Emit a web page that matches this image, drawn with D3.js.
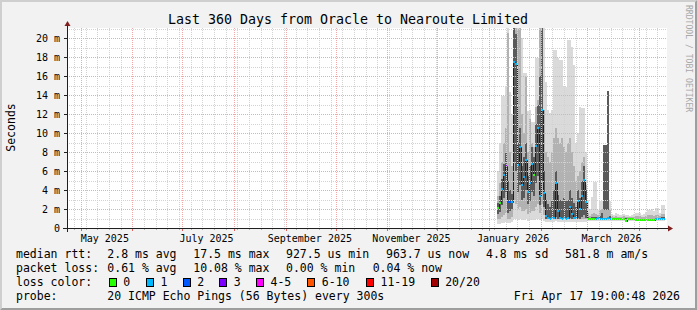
<!DOCTYPE html>
<html>
<head>
<meta charset="utf-8">
<title>Last 360 Days from Oracle to Nearoute Limited</title>
<script src="https://cdn.jsdelivr.net/npm/d3@7"></script>
<style>
    html, body { margin: 0; padding: 0; background: #f2f2f2; }
    #chart svg { display: block; font-family: "DejaVu Sans Mono", monospace; }
</style>
</head>
<body>
<div id="chart"></div>
<script>
// Graph window: 360 days up to the time the graph was made
const endTime = new Date(2026, 3, 17, 19, 0, 48);
const startTime = d3.timeDay.offset(endTime, -360);

// Smokeping samples start here, one every 28.8 hours
const firstSample = new Date(2026, 0, 5, 19, 0);
const sampleHours = 28.8;

// median rtt (ms)
const median = [
    2.1, 2.6, 4.1, 5.6, 6.5, 2.7, 2.7, 2.7, 17.5, 17.3,
    6.6, 8.5, 4.5, 5.4, 7.2, 3.8, 4.8, 6.75, 5.6, 8.6,
    10.6, 3.4, 12.45, 3.7, 1.27, 1.05, 1.0, 1.05, 1.1, 4.8,
    1.8, 1.05, 1.0, 1.05, 1.0, 1.05, 2.2, 1.5, 1.1, 1.05,
    2.9, 2.0, 3.4, 5.1, 2.7, 1.0,
    1.0, 0.98, 1.0, 1.0, 1.02, 1.0, 1.0, 1.0, 1.0, 1.02,
    1.0, 0.98, 1.0, 0.98, 1.0, 0.98, 0.98, 1.0, 0.75, 0.98,
    1.0, 0.98, 0.98, 0.85, 0.85, 0.85, 0.84, 0.85, 0.85, 0.84,
    0.85, 0.85, 0.86, 1.0, 1.0, 1.0, 1.0, 1.0
];

// pings lost out of 20, per sample
const lost = [
    0, 0, 1, 1, 3, 2, 2, 1, 1, 1,
    1, 1, 1, 1, 1, 1, 1, 1, 0, 1,
    1, 1, 1, 1, 1, 1, 1, 1, 1, 1,
    1, 1, 1, 1, 1, 1, 1, 1, 1, 1,
    1, 1, 1, 1, 1, 0,
    0, 0, 0, 1, 1, 1, 1, 1, 1, 1,
    1, 0, 0, 0, 0, 0, 0, 0, 0, 0,
    0, 0, 0, 0, 0, 0, 0, 0, 0, 0,
    0, 0, 0, 1, 1, 1, 1, 1
];

// smoke: fastest and slowest ping (ms)
const smokeMin = [
    0.4, 0.4, 0.5, 0.5, 0.6, 0.5, 0.5, 0.6, 1.0, 1.0,
    0.8, 0.9, 0.8, 0.8, 0.9, 0.7, 0.8, 0.8, 0.8, 0.9,
    1.0, 0.8, 1.0, 0.7, 0.6, 0.6, 0.6, 0.6, 0.6, 0.7,
    0.6, 0.6, 0.6, 0.6, 0.6, 0.6, 0.6, 0.6, 0.6, 0.6,
    0.6, 0.6, 0.6, 0.6, 0.6, 0.7,
    0.76, 0.75, 0.76, 0.75, 0.76, 0.75, 0.75, 0.76, 0.75, 0.75,
    0.76, 0.75, 0.76, 0.75, 0.75, 0.76, 0.75, 0.75, 0.74, 0.75,
    0.76, 0.75, 0.75, 0.74, 0.74, 0.75, 0.74, 0.74, 0.75, 0.74,
    0.74, 0.75, 0.75, 0.76, 0.75, 0.76, 0.75, 0.76
];
const smokeMax = [
    6.0, 9.0, 13.9, 13.9, 14.9, 21.5, 14.4, 12.0, 22, 22,
    22, 22, 20, 16.3, 16.3, 12.3, 12.4, 11.2, 11.2, 17.9,
    17.9, 22, 22, 22, 15.4, 12.4, 12.1, 12.4, 18.8, 18.8,
    17.9, 17.7, 17.7, 14.9, 14.9, 19.8, 19.8, 19.1, 17.2, 9.0,
    10, 12.8, 12.7, 12.7, 8.0, 3.0,
    2.0, 3.3, 4.9, 4.9, 1.9, 2.8, 2.8, 8.8, 8.8, 14.5,
    2.8, 1.5, 1.4, 1.6, 1.5, 1.4, 1.4, 1.5, 1.4, 1.4,
    1.3, 1.4, 1.5, 1.6, 1.6, 1.6, 1.4, 1.5, 1.7, 1.9,
    1.9, 2.0, 1.8, 2.1, 2.1, 1.6, 2.4, 2.4
];

// smoke: middle percentiles (ms)
const midLo = [
    0.9, 1.0, 1.2, 1.4, 1.6, 1.0, 1.0, 1.2, 3.0, 2.5,
    2.0, 2.2, 1.8, 1.8, 2.0, 1.5, 1.6, 1.8, 1.8, 2.2,
    2.5, 1.6, 2.5, 1.4, 0.9, 0.9, 0.9, 0.9, 0.9, 1.0,
    0.9, 0.9, 0.9, 0.9, 0.9, 0.9, 0.9, 0.9, 0.9, 0.9,
    0.9, 0.9, 0.9, 0.9, 0.9, 0.85,
    0.85, 0.85, 0.85, 0.85, 0.85, 0.85, 0.85, 0.85, 0.85, 0.85,
    0.85, 0.85, 0.85, 0.85, 0.85, 0.85, 0.85, 0.85, 0.85, 0.85,
    0.85, 0.85, 0.85, 0.82, 0.82, 0.82, 0.82, 0.82, 0.82, 0.82,
    0.82, 0.82, 0.82, 0.85, 0.85, 0.85, 0.85, 0.85
];
const midHi = [
    3.4, 4.8, 7.0, 9.0, 10.5, 20.6, 8.0, 6.5, 22, 22,
    21, 22, 12, 10, 15.9, 8.0, 11.5, 9.0, 8.5, 12.8,
    13.5, 22, 22, 12.4, 8.0, 7.5, 7.0, 8.0, 9.5, 10.5,
    9.5, 9.0, 9.5, 8.5, 8.0, 9.0, 9.5, 8.0, 6.5, 5.0,
    5.5, 6.0, 7.0, 7.5, 4.5, 1.6,
    1.3, 1.5, 1.6, 1.5, 1.4, 1.9, 2.0, 8.8, 8.8, 14.5,
    1.9, 1.3, 1.2, 1.25, 1.2, 1.2, 1.2, 1.25, 1.2, 1.2,
    1.15, 1.2, 1.2, 1.25, 1.25, 1.25, 1.2, 1.2, 1.3, 1.35,
    1.35, 1.4, 1.3, 1.4, 1.4, 1.3, 1.5, 1.5
];

// smoke: pings closest to the median (ms)
const innerLo = [
    1.5, 1.7, 2.4, 3.2, 3.8, 1.6, 1.8, 2.0, 7.0, 6.0,
    3.8, 4.5, 3.0, 3.2, 4.0, 2.5, 2.8, 3.8, 3.4, 4.8,
    5.5, 2.4, 5.0, 2.2, 1.0, 1.0, 1.0, 1.0, 1.0, 1.2,
    1.0, 1.0, 1.0, 1.0, 1.0, 1.0, 1.1, 1.0, 1.0, 1.0,
    1.1, 1.0, 1.2, 1.4, 1.1, 0.9,
    0.9, 0.9, 0.9, 0.9, 0.9, 0.9, 0.9, 1.9, 1.9, 1.9,
    0.9, 0.9, 0.9, 0.9, 0.9, 0.9, 0.9, 0.9, 0.9, 0.9,
    0.9, 0.9, 0.9, 0.8, 0.8, 0.8, 0.8, 0.8, 0.8, 0.8,
    0.8, 0.8, 0.8, 0.9, 0.9, 0.9, 0.9, 0.9
];
const innerHi = [
    2.6, 3.4, 5.2, 6.8, 8.0, 5.0, 4.0, 3.6, 22, 20.5,
    9.0, 10.5, 6.5, 7.5, 9.0, 5.5, 6.5, 8.5, 7.5, 11.0,
    13.0, 16, 22, 6.0, 3.0, 2.5, 2.2, 3.0, 4.0, 6.0,
    3.5, 3.0, 2.8, 3.2, 2.8, 3.0, 4.0, 3.2, 2.6, 2.2,
    4.0, 3.2, 5.0, 6.5, 4.0, 1.2,
    1.1, 1.15, 1.2, 1.2, 1.15, 1.3, 1.6, 8.8, 8.8, 14.5,
    1.3, 1.1, 1.05, 1.1, 1.05, 1.05, 1.05, 1.1, 1.05, 1.05,
    1.05, 1.05, 1.05, 1.0, 1.0, 1.0, 1.0, 1.0, 1.0, 1.0,
    1.0, 1.0, 1.0, 1.1, 1.1, 1.1, 1.15, 1.15
];

// axis labels
const yTicks = [0, 2, 4, 6, 8, 10, 12, 14, 16, 18, 20];
const yTickLabels = ["0", "2 m", "4 m", "6 m", "8 m", "10 m", "12 m", "14 m", "16 m", "18 m", "20 m"];
const xTickLabels = ["May 2025", "July 2025", "September 2025", "November 2025", "January 2026", "March 2026"];

// loss colour legend
const lossLabels = ["0", "1", "2", "3", "4-5", "6-10", "11-19", "20/20"];
const lossColors = ["#26ff00", "#00b8ff", "#0059ff", "#7e00ff", "#ff00ff", "#ff5500", "#ff0000", "#a10000"];
const lossUpper = [0, 1, 2, 3, 5, 10, 19, 20];

// legend statistics
const rttStats = ["2.8 ms avg", "17.5 ms max", "927.5 us min", "963.7 us now", "4.8 ms sd", "581.8 m am/s"];
const lossStats = ["0.61 % avg", "10.08 % max", "0.00 % min", "0.04 % now"];
const probeText = "20 ICMP Echo Pings (56 Bytes) every 300s";
const stampText = "Fri Apr 17 19:00:48 2026";

document.addEventListener('DOMContentLoaded', function() {
    drawChart();
});

function drawChart() {
    const width = 697, height = 310;
    const plot = { left: 67, top: 28, right: 667, bottom: 228 };

    const svg = d3.select("#chart").append("svg")
        .attr("width", width)
        .attr("height", height);

    // background and 3d frame
    svg.append("rect").attr("width", width).attr("height", height).attr("fill", "#f2f2f2");
    svg.append("path")
        .attr("d", `M0,${height} L2,${height - 2} L2,2 L${width - 2},2 L${width},0 L0,0 Z`)
        .attr("fill", "#cfcfcf");
    svg.append("path")
        .attr("d", `M2,${height - 2} L${width - 2},${height - 2} L${width - 2},2 L${width},0 L${width},${height} L0,${height} Z`)
        .attr("fill", "#9e9e9e");

    const x = d3.scaleTime().domain([startTime, endTime]).range([plot.left, plot.right]);
    const y = d3.scaleLinear().domain([0, 21.1]).range([plot.bottom, plot.top]);

    svg.append("rect")
        .attr("x", plot.left).attr("y", plot.top)
        .attr("width", plot.right - plot.left).attr("height", plot.bottom - plot.top)
        .attr("fill", "#ffffff");

    svg.append("clipPath").attr("id", "plot-clip")
        .append("rect")
        .attr("x", plot.left).attr("y", plot.top)
        .attr("width", plot.right - plot.left).attr("height", plot.bottom - plot.top);

    const samples = median.map((m, i) => ({
        t0: d3.timeMinute.offset(firstSample, Math.round(i * sampleHours * 60)),
        t1: d3.timeMinute.offset(firstSample, Math.round((i + 1) * sampleHours * 60)),
        median: m,
        lost: lost[i],
        bands: [
            [smokeMin[i], smokeMax[i]],
            [midLo[i], midHi[i]],
            [innerLo[i], innerHi[i]]
        ]
    }));

    const g = svg.append("g").attr("clip-path", "url(#plot-clip)");

    // smoke, outer band first
    const smokeColors = ["#dadada", "#b2b2b2", "#5a5a5a"];
    smokeColors.forEach((color, b) => {
        g.append("g").selectAll("rect")
            .data(samples)
            .enter()
            .append("rect")
            .attr("x", d => Math.round(x(d.t0)))
            .attr("width", d => Math.round(x(d.t1)) - Math.round(x(d.t0)))
            .attr("y", d => Math.round(y(d.bands[b][1])))
            .attr("height", d => Math.max(0, Math.round(y(d.bands[b][0])) - Math.round(y(d.bands[b][1]))))
            .attr("fill", color)
            .attr("shape-rendering", "crispEdges");
    });

    // grid on top of the smoke
    const grid = svg.append("g").attr("stroke-dasharray", "1,1").attr("shape-rendering", "crispEdges");
    const yMinor = d3.range(1, 22, 2);
    grid.selectAll(".ymin").data(yMinor).enter().append("line")
        .attr("x1", plot.left).attr("x2", plot.right)
        .attr("y1", d => Math.round(y(d)) + 0.5).attr("y2", d => Math.round(y(d)) + 0.5)
        .attr("stroke", "#d2d2d2");
    const weeks = d3.timeSunday.range(startTime, endTime)
        .filter(d => d.getDate() !== 1);
    grid.selectAll(".xmin").data(weeks).enter().append("line")
        .attr("x1", d => Math.round(x(d)) + 0.5).attr("x2", d => Math.round(x(d)) + 0.5)
        .attr("y1", plot.top).attr("y2", plot.bottom)
        .attr("stroke", "#d2d2d2");
    grid.selectAll(".ymaj").data(yTicks.slice(1)).enter().append("line")
        .attr("x1", plot.left).attr("x2", plot.right)
        .attr("y1", d => Math.round(y(d)) + 0.5).attr("y2", d => Math.round(y(d)) + 0.5)
        .attr("stroke", "#f2a8a8");
    const months = d3.timeMonth.range(startTime, endTime);
    grid.selectAll(".xmaj").data(months).enter().append("line")
        .attr("x1", d => Math.round(x(d)) + 0.5).attr("x2", d => Math.round(x(d)) + 0.5)
        .attr("y1", plot.top).attr("y2", plot.bottom)
        .attr("stroke", "#f2a8a8");

    // median line
    const line = d3.line()
        .x(d => Math.round(x(d.t)) + 0.5)
        .y(d => Math.round(y(d.v)) + 0.5)
        .curve(d3.curveStepAfter);
    const medPoints = samples.map(d => ({ t: d.t0, v: d.median }));
    medPoints.push({ t: samples[samples.length - 1].t1, v: median[median.length - 1] });
    g.append("path")
        .attr("d", line(medPoints))
        .attr("fill", "none")
        .attr("stroke", "#202020")
        .attr("stroke-width", 1);

    // loss coloured median marks
    const lossColor = n => lossColors[lossUpper.findIndex(u => n <= u)];
    g.append("g").selectAll("rect")
        .data(samples)
        .enter()
        .append("rect")
        .attr("x", d => Math.round(x(d.t0)))
        .attr("width", d => Math.round(x(d.t1)) - Math.round(x(d.t0)))
        .attr("y", d => Math.round(y(d.median)) - 1)
        .attr("height", 2)
        .attr("fill", d => lossColor(d.lost))
        .attr("shape-rendering", "crispEdges");

    // axes
    const axisColor = "#1f1f1f", arrowColor = "#801f1f";
    const ticks = svg.append("g").attr("shape-rendering", "crispEdges");
    ticks.selectAll(".yt").data(yTicks).enter().append("line")
        .attr("x1", plot.left - 3).attr("x2", plot.left)
        .attr("y1", d => Math.round(y(d)) + 0.5).attr("y2", d => Math.round(y(d)) + 0.5)
        .attr("stroke", axisColor);
    ticks.selectAll(".xw").data(weeks).enter().append("line")
        .attr("x1", d => Math.round(x(d)) + 0.5).attr("x2", d => Math.round(x(d)) + 0.5)
        .attr("y1", plot.bottom).attr("y2", plot.bottom + 2)
        .attr("stroke", "#b0b0b0");
    ticks.selectAll(".xm").data(months).enter().append("line")
        .attr("x1", d => Math.round(x(d)) + 0.5).attr("x2", d => Math.round(x(d)) + 0.5)
        .attr("y1", plot.bottom).attr("y2", plot.bottom + 3)
        .attr("stroke", "#e06060");

    svg.append("line")
        .attr("x1", plot.left - 4).attr("x2", plot.right + 4)
        .attr("y1", plot.bottom + 0.5).attr("y2", plot.bottom + 0.5)
        .attr("stroke", axisColor).attr("shape-rendering", "crispEdges");
    svg.append("line")
        .attr("x1", plot.left + 0.5).attr("x2", plot.left + 0.5)
        .attr("y1", plot.bottom + 4).attr("y2", plot.top - 3)
        .attr("stroke", axisColor).attr("shape-rendering", "crispEdges");
    svg.append("path")
        .attr("d", `M${plot.right + 1},${plot.bottom - 2.5} L${plot.right + 6},${plot.bottom + 0.5} L${plot.right + 1},${plot.bottom + 3.5} Z`)
        .attr("fill", arrowColor);
    svg.append("path")
        .attr("d", `M${plot.left - 2.5},${plot.top - 2} L${plot.left + 0.5},${plot.top - 7} L${plot.left + 3.5},${plot.top - 2} Z`)
        .attr("fill", arrowColor);

    // tick labels
    svg.append("g").selectAll("text")
        .data(yTicks)
        .enter()
        .append("text")
        .attr("x", 60)
        .attr("y", d => y(d) + 3.6)
        .attr("text-anchor", "end")
        .attr("font-size", "10px")
        .text((d, i) => yTickLabels[i]);

    const parseMonth = d3.timeParse("%B %Y");
    svg.append("g").selectAll("text")
        .data(xTickLabels)
        .enter()
        .append("text")
        .attr("x", d => x(d3.timeHour.offset(parseMonth(d), 348)))
        .attr("y", 241.5)
        .attr("text-anchor", "middle")
        .attr("font-size", "10px")
        .text(d => d);

    // titles
    svg.append("text")
        .attr("x", 348).attr("y", 24)
        .attr("text-anchor", "middle")
        .attr("font-size", "13.3px")
        .text("Last 360 Days from Oracle to Nearoute Limited");

    svg.append("text")
        .attr("transform", "translate(14.5,127.5) rotate(-90)")
        .attr("text-anchor", "middle")
        .attr("font-size", "11.5px")
        .text("Seconds");

    svg.append("text")
        .attr("transform", "translate(686,5) rotate(90)")
        .attr("font-size", "8.1px")
        .attr("fill", "#a8a8a8")
        .text("RRDTOOL / TOBI OETIKER");

    // legend
    const legend = svg.append("g").attr("font-size", "11.5px");
    const rowY = [258, 272, 286, 300];

    legend.append("text").attr("x", 16).attr("y", rowY[0]).text("median rtt:");
    const rttX = [107.3, 193.3, 286, 386, 486, 565];
    legend.selectAll(".rtt").data(rttStats).enter().append("text")
        .attr("x", (d, i) => rttX[i]).attr("y", rowY[0]).text(d => d);

    legend.append("text").attr("x", 16).attr("y", rowY[1]).text("packet loss:");
    const lossX = [107.3, 193.3, 286, 372.7];
    legend.selectAll(".loss").data(lossStats).enter().append("text")
        .attr("x", (d, i) => lossX[i]).attr("y", rowY[1]).text(d => d);

    legend.append("text").attr("x", 16).attr("y", rowY[2]).text("loss color:");
    const boxX = [108.7, 146, 182.7, 219.3, 256, 307.3, 366, 430.7];
    legend.selectAll(".box").data(lossLabels).enter().append("rect")
        .attr("x", (d, i) => boxX[i] + 0.5).attr("y", 278.5)
        .attr("width", 7).attr("height", 8)
        .attr("fill", (d, i) => lossColors[i])
        .attr("stroke", "#000").attr("stroke-width", 1)
        .attr("shape-rendering", "crispEdges");
    legend.selectAll(".boxlabel").data(lossLabels).enter().append("text")
        .attr("x", (d, i) => boxX[i] + 14.5).attr("y", rowY[2]).text(d => d);

    legend.append("text").attr("x", 16).attr("y", rowY[3]).text("probe:");
    legend.append("text").attr("x", 107.3).attr("y", rowY[3]).text(probeText);
    legend.append("text").attr("x", 680).attr("y", rowY[3]).attr("text-anchor", "end").text(stampText);
}
</script>
</body>
</html>
